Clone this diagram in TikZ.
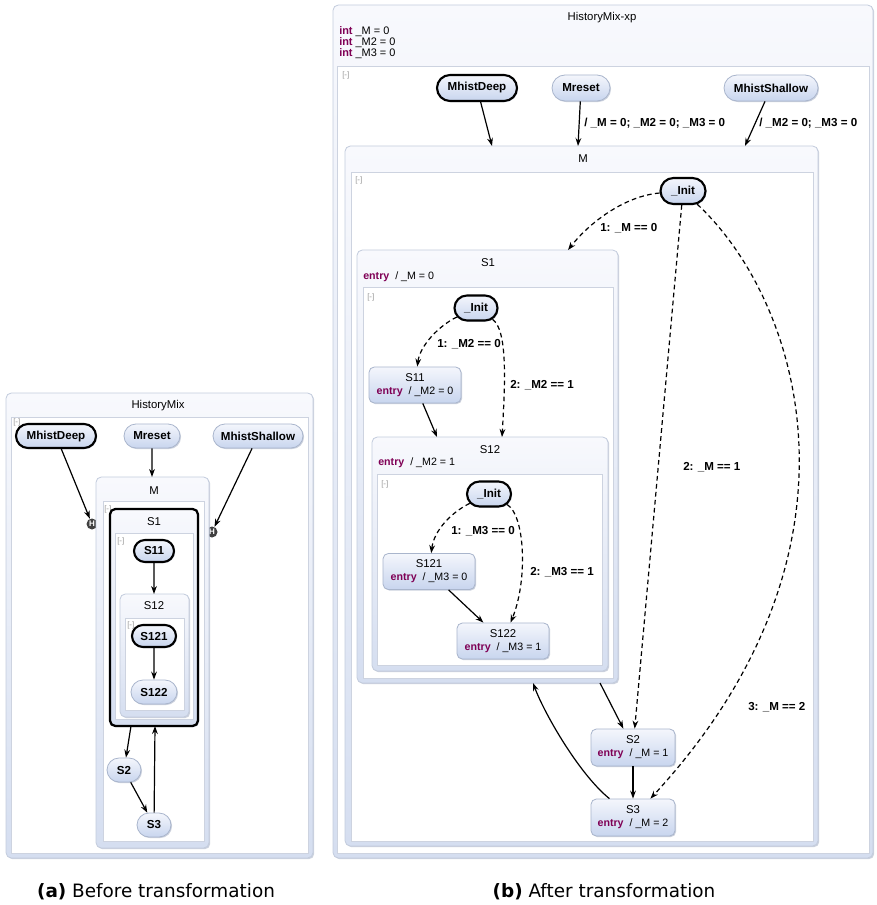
\documentclass[tikz,border=0pt]{standalone}
\usepackage{fontspec}
\setmainfont{Liberation Sans}
\newfontfamily\capfont{DejaVu Sans}
\usetikzlibrary{positioning,arrows.meta,shapes.misc,shadows}
\definecolor{boxc}{HTML}{C3CCDD}
\definecolor{hdtop}{HTML}{F8F9FD}
\definecolor{hdbot}{HTML}{D5DEF0}
\definecolor{inrc}{HTML}{CDD3E0}
\definecolor{plc}{HTML}{A9B5CC}
\definecolor{pltop}{HTML}{F4F6FC}
\definecolor{plbot}{HTML}{C8D5EE}
\definecolor{shc}{HTML}{8E9BB5}
\definecolor{kwc}{RGB}{127,0,85}
\providecommand{\kw}[1]{\textcolor{kwc}{\bfseries #1}}
\providecommand{\cbox}[5]{\draw[#1] (#2,#3) rectangle (#4,#5);}
\providecommand{\ent}[1]{{\fontsize{8}{9.75}\selectfont\kw{entry}~~/ #1}}

\begin{document}
\begin{tikzpicture}[
  x=0.75pt, y=-0.75pt,
  font=\fontsize{8.5}{10}\selectfont,
  sz/.style 2 args={minimum width=#1*0.75pt, minimum height=#2*0.75pt},
  cmp/.style={draw=boxc, line width=.6pt, rounded corners=4pt, top color=hdtop, bottom color=hdbot,
              drop shadow={shadow xshift=.9pt, shadow yshift=-.9pt, fill=shc, opacity=.45}},
  cmpk/.style={cmp, draw=black, line width=1.7pt},
  inr/.style={draw=inrc, line width=.5pt, fill=white},
  pl/.style={rounded rectangle, draw=plc, line width=.6pt, top color=pltop, bottom color=plbot,
             font=\fontsize{8.7}{10}\selectfont\bfseries, inner sep=0pt,
             drop shadow={shadow xshift=.8pt, shadow yshift=-.8pt, fill=shc, opacity=.45}},
  plk/.style={pl, draw=black, line width=1.6pt},
  st/.style={rectangle, rounded corners=4pt, draw=plc, line width=.6pt, top color=pltop, bottom color=plbot,
             align=center, inner sep=0pt, font=\fontsize{8.5}{9.75}\selectfont,
             drop shadow={shadow xshift=.8pt, shadow yshift=-.8pt, fill=shc, opacity=.45}},
  ttl/.style={inner sep=0pt},
  ent/.style={anchor=west, inner sep=0pt, font=\fontsize{8.2}{9.75}\selectfont},
  col/.style={anchor=west, inner sep=0pt, font=\fontsize{6}{7}\selectfont, text=black!40},
  hst/.style={circle, fill=black!75, text=white, inner sep=0pt, minimum size=11*0.75pt,
              font=\fontsize{6}{6}\selectfont\bfseries},
  tr/.style={draw=black, line width=.9pt, -{Stealth[length=6pt, width=4.3pt]}},
  trd/.style={tr, dash pattern=on 3.5pt off 2.5pt},
  lbl/.style={anchor=west, inner sep=0pt, font=\fontsize{8.7}{10}\selectfont\bfseries},
  capt/.style={font=\capfont\fontsize{13.8}{16}\selectfont},
]
\useasboundingbox (0,0) rectangle (876,905);

% ---------------- (a) before transformation ----------------
\cbox{cmp}{6}{393}{313}{858}
\cbox{inr}{11}{417}{308}{853}
\node[ttl] (aTitle) at (158,406) {HistoryMix};
\node[col] (aCol0) at (13,422) {[-]};
\node[plk, sz={80}{24}] (aDeep)  at (56,436)  {MhistDeep};
\node[pl,  sz={56}{24}] (aReset) at (152,436) {Mreset};
\node[pl,  sz={90}{24}] (aShal)  at (258,436) {MhistShallow};
\node[hst] (aHd) at (92,524)  {H};
\node[hst] (aHs) at (212,532) {H};

\cbox{cmp}{96}{477}{209}{848}
\cbox{inr}{103}{501}{204}{841}
\node[ttl] (aMt) at (154,491) {M};
\node[col] (aCol1) at (104,509) {[-]};

\cbox{cmpk}{110}{509}{198}{726}
\cbox{inr}{115}{533}{193}{719}
\node[ttl] (aS1t) at (154,522) {S1};
\node[col] (aCol2) at (117,541) {[-]};
\node[plk, sz={40}{22}] (aS11) at (154,551) {S11};

\cbox{cmp}{120}{594}{189}{717}
\cbox{inr}{125}{618}{184}{710}
\node[ttl] (aS12t) at (154,606) {S12};
\node[col] (aCol3) at (127,625) {[-]};
\node[plk, sz={44}{22}] (aS121) at (154,636) {S121};
\node[pl,  sz={46}{24}] (aS122) at (154,692) {S122};
\node[pl,  sz={34}{24}] (aS2)   at (124,770) {S2};
\node[pl,  sz={34}{24}] (aS3)   at (154,825) {S3};

\coordinate (aMin)   at (152,477);
\coordinate (aS12in) at (154,594);
\coordinate (aS1out) at (131,726);
\coordinate (aS1ret) at (155,726);

\draw[tr] (aDeep)  -- (aHd);
\draw[tr] (aShal)  -- (aHs);
\draw[tr] (aReset) -- (aMin);
\draw[tr] (aS11)   -- (aS12in);
\draw[tr] (aS121)  -- (aS122);
\draw[tr] (aS1out) -- (aS2);
\draw[tr] (aS2)    -- (aS3);
\draw[tr] (aS3)    -- (aS1ret);

\node[capt] (capA) at (156,892) {\textbf{(a)} Before transformation};

% ---------------- (b) after transformation ----------------
\cbox{cmp}{333}{5}{873}{858}
\cbox{inr}{337}{66}{869}{853}
\node[ttl] (bTitle) at (602,18) {HistoryMix-xp};
\node[ent] (bV1) at (339,32) {\kw{int} \_M = 0};
\node[ent] (bV2) at (339,43) {\kw{int} \_M2 = 0};
\node[ent] (bV3) at (339,54) {\kw{int} \_M3 = 0};
\node[col] (bCol0) at (342,75) {[-]};
\node[plk, sz={80}{26}] (bDeep)  at (477,88) {MhistDeep};
\node[pl,  sz={58}{26}] (bReset) at (581,88) {Mreset};
\node[pl,  sz={94}{26}] (bShal)  at (771,88) {MhistShallow};

\cbox{cmp}{345}{146}{818}{846}
\cbox{inr}{351}{172}{813}{841}
\node[ttl] (bMt) at (583,159) {M};
\node[col] (bCol1) at (355,180) {[-]};
\node[plk, sz={45}{26}] (bInitM) at (683,191) {\_Init};

\cbox{cmp}{357}{250}{618}{683}
\cbox{inr}{363}{287}{613}{678}
\node[ttl] (bS1t) at (488,263) {S1};
\node[ent] (bS1e) at (363,277) {\ent{\_M = 0}};
\node[col] (bCol2) at (367,297) {[-]};
\node[plk, sz={43}{25}] (bInit1) at (476,308) {\_Init};
\node[st, sz={92}{36}] (bS11) at (415,385) {S11\\\ent{\_M2 = 0}};

\cbox{cmp}{372}{437}{608}{671}
\cbox{inr}{377}{474}{602}{665}
\node[ttl] (bS12t) at (490,450) {S12};
\node[ent] (bS12e) at (378,463) {\ent{\_M2 = 1}};
\node[col] (bCol3) at (381,484) {[-]};
\node[plk, sz={44}{25}] (bInit12) at (489,494) {\_Init};
\node[st, sz={92}{36}] (bS121) at (429,571.5) {S121\\\ent{\_M3 = 0}};
\node[st, sz={92}{36}] (bS122) at (503,641)   {S122\\\ent{\_M3 = 1}};

\node[st, sz={84}{37}] (bS2) at (633,747.5) {S2\\\ent{\_M = 1}};
\node[st, sz={84}{37}] (bS3) at (633,817.5) {S3\\\ent{\_M = 2}};

\coordinate (bMin1)   at (492,146);
\coordinate (bMin2)   at (578,146);
\coordinate (bMin3)   at (745,146);
\coordinate (bS1in)   at (568,250);
\coordinate (bS12in1) at (437,437);
\coordinate (bS12in2) at (502,437);
\coordinate (bS1out)  at (600,683);
\coordinate (bS1ret)  at (533,683);

% entries into M
\draw[tr] (bDeep)  -- (bMin1);
\draw[tr] (bReset) -- (bMin2);
\draw[tr] (bShal)  -- (bMin3);
\node[lbl] (bL1) at (584,123) {/ \_M = 0; \_M2 = 0; \_M3 = 0};
\node[lbl] (bL2) at (759,123) {/ \_M2 = 0; \_M3 = 0};

% choices of M
\draw[trd] (bInitM) .. controls (625,196) and (590,222) .. (bS1in);
\draw[trd] (bInitM) -- (bS2);
\draw[trd] (bInitM) .. controls (800,300) and (880,550) .. (bS3);
\node[lbl] (bL3) at (600,228) {1: \_M == 0};
\node[lbl] (bL4) at (683,467) {2: \_M == 1};
\node[lbl] (bL5) at (748,707) {3: \_M == 2};

% choices of S1 and S12
\draw[trd] (bInit1) .. controls (440,325) and (420,345) .. (bS11);
\draw[trd] (bInit1) .. controls (508,330) and (505,385) .. (bS12in2);
\draw[tr]  (bS11) -- (bS12in1);
\node[lbl] (bL6) at (437,344) {1: \_M2 == 0};
\node[lbl] (bL7) at (510,385) {2: \_M2 == 1};

\draw[trd] (bInit12) .. controls (452,512) and (434,530) .. (bS121);
\draw[trd] (bInit12) .. controls (525,515) and (528,580) .. (bS122);
\draw[tr]  (bS121) -- (bS122);
\node[lbl] (bL8) at (451,531) {1: \_M3 == 0};
\node[lbl] (bL9) at (530,572) {2: \_M3 == 1};

% S1, S2, S3 cycle
\draw[tr] (bS1out) -- (bS2);
\draw[tr] (bS2) -- (bS3);
\draw[tr] (bS3) .. controls (580,775) and (545,715) .. (bS1ret);

\node[capt] (capB) at (604,892) {\textbf{(b)} After transformation};

\end{tikzpicture}
\end{document}
